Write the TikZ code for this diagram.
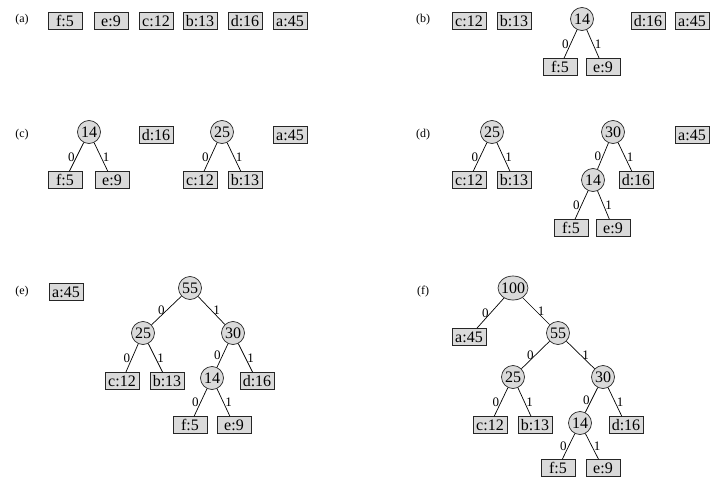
\documentclass[tikz,border=0pt]{standalone}
\usepackage{fontspec}
\setmainfont{Liberation Serif}
\usetikzlibrary{shapes.geometric}
\definecolor{nodefill}{HTML}{DADADA}
\begin{document}
\begin{tikzpicture}[x=1pt,y=-1pt,
 leaf/.style={draw=black!85, fill=nodefill, line width=0.7pt, minimum width=34pt, minimum height=17pt, inner sep=0pt, font=\fontsize{16}{16}\selectfont},
 inode/.style={draw=black!85, fill=nodefill, circle, line width=0.7pt, minimum size=23pt, inner sep=0pt, font=\fontsize{16}{16}\selectfont},
 wnode/.style={inode, ellipse, inner xsep=-3pt, inner ysep=-2pt, minimum width=30pt, minimum height=24pt},
 tag/.style={font=\fontsize{12}{12}\selectfont},
 lab/.style={font=\fontsize{13}{13}\selectfont, inner sep=1.5pt},
 edge/.style={draw=black, line width=0.7pt}]
\useasboundingbox (0,0) rectangle (710,479);

% (a)
\node[tag] (ta) at (22,20) {(a)};
\node[leaf] (af) at (65,21) {f:5};
\node[leaf] (ae) at (111,21) {e:9};
\node[leaf] (ac) at (156,21) {c:12};
\node[leaf] (ab) at (200,21) {b:13};
\node[leaf] (ad) at (245,21) {d:16};
\node[leaf] (aa) at (290,21) {a:45};

% (b)
\node[tag] (tb) at (423,20) {(b)};
\node[leaf] (bc) at (469,21) {c:12};
\node[leaf] (bb) at (514,21) {b:13};
\node[inode] (b14) at (582,19) {14};
\node[leaf] (bf) at (560,67) {f:5};
\node[leaf] (be) at (603,67) {e:9};
\node[leaf] (bd) at (648,21) {d:16};
\node[leaf] (ba) at (692,21) {a:45};
\draw[edge] (b14) -- node[lab,left]{0} (bf);
\draw[edge] (b14) -- node[lab,right]{1} (be);

% (c)
\node[tag] (tc) at (22,135) {(c)};
\node[inode] (c14) at (89,132) {14};
\node[leaf] (cf) at (65,180) {f:5};
\node[leaf] (ce) at (112,180) {e:9};
\node[leaf] (cd) at (156,135) {d:16};
\node[inode] (c25) at (222,132) {25};
\node[leaf] (cc) at (200,180) {c:12};
\node[leaf] (cb) at (245,180) {b:13};
\node[leaf] (ca) at (290,135) {a:45};
\draw[edge] (c14) -- node[lab,left]{0} (cf);
\draw[edge] (c14) -- node[lab,right]{1} (ce);
\draw[edge] (c25) -- node[lab,left]{0} (cc);
\draw[edge] (c25) -- node[lab,right]{1} (cb);

% (d)
\node[tag] (td) at (423,135) {(d)};
\node[inode] (d25) at (492,132) {25};
\node[leaf] (dc) at (469,180) {c:12};
\node[leaf] (db) at (514,180) {b:13};
\node[inode] (d30) at (613,132) {30};
\node[inode] (d14) at (593,180) {14};
\node[leaf] (dd) at (636,180) {d:16};
\node[leaf] (df) at (571,228) {f:5};
\node[leaf] (de) at (613,228) {e:9};
\node[leaf] (da) at (692,135) {a:45};
\draw[edge] (d25) -- node[lab,left]{0} (dc);
\draw[edge] (d25) -- node[lab,right]{1} (db);
\draw[edge] (d30) -- node[lab,left]{0} (d14);
\draw[edge] (d30) -- node[lab,right]{1} (dd);
\draw[edge] (d14) -- node[lab,left]{0} (df);
\draw[edge] (d14) -- node[lab,right]{1} (de);

% (e)
\node[tag] (te) at (22,292) {(e)};
\node[leaf] (ea) at (66,292) {a:45};
\node[inode] (e55) at (190,288) {55};
\node[inode] (e25) at (143,333) {25};
\node[inode] (e30) at (233,333) {30};
\node[leaf] (ec) at (122,381) {c:12};
\node[leaf] (eb) at (167,381) {b:13};
\node[inode] (e14) at (212,378) {14};
\node[leaf] (ed) at (257,381) {d:16};
\node[leaf] (ef) at (190,425) {f:5};
\node[leaf] (ee) at (234,425) {e:9};
\draw[edge] (e55) -- node[lab,left]{0} (e25);
\draw[edge] (e55) -- node[lab,right]{1} (e30);
\draw[edge] (e25) -- node[lab,left]{0} (ec);
\draw[edge] (e25) -- node[lab,right]{1} (eb);
\draw[edge] (e30) -- node[lab,left]{0} (e14);
\draw[edge] (e30) -- node[lab,right]{1} (ed);
\draw[edge] (e14) -- node[lab,left]{0} (ef);
\draw[edge] (e14) -- node[lab,right]{1} (ee);

% (f)
\node[tag] (tf) at (423,292) {(f)};
\node[wnode] (f100) at (513,288) {100};
\node[leaf] (fa) at (469,337) {a:45};
\node[inode] (f55) at (558,333) {55};
\node[inode] (f25) at (513,377) {25};
\node[inode] (f30) at (603,377) {30};
\node[leaf] (fc) at (490,425) {c:12};
\node[leaf] (fb) at (535,425) {b:13};
\node[inode] (f14) at (580,423) {14};
\node[leaf] (fd) at (626,425) {d:16};
\node[leaf] (ff) at (558,468) {f:5};
\node[leaf] (fe) at (603,468) {e:9};
\draw[edge] (f100) -- node[lab,left]{0} (fa);
\draw[edge] (f100) -- node[lab,right]{1} (f55);
\draw[edge] (f55) -- node[lab,left]{0} (f25);
\draw[edge] (f55) -- node[lab,right]{1} (f30);
\draw[edge] (f25) -- node[lab,left]{0} (fc);
\draw[edge] (f25) -- node[lab,right]{1} (fb);
\draw[edge] (f30) -- node[lab,left]{0} (f14);
\draw[edge] (f30) -- node[lab,right]{1} (fd);
\draw[edge] (f14) -- node[lab,left]{0} (ff);
\draw[edge] (f14) -- node[lab,right]{1} (fe);
\end{tikzpicture}
\end{document}
